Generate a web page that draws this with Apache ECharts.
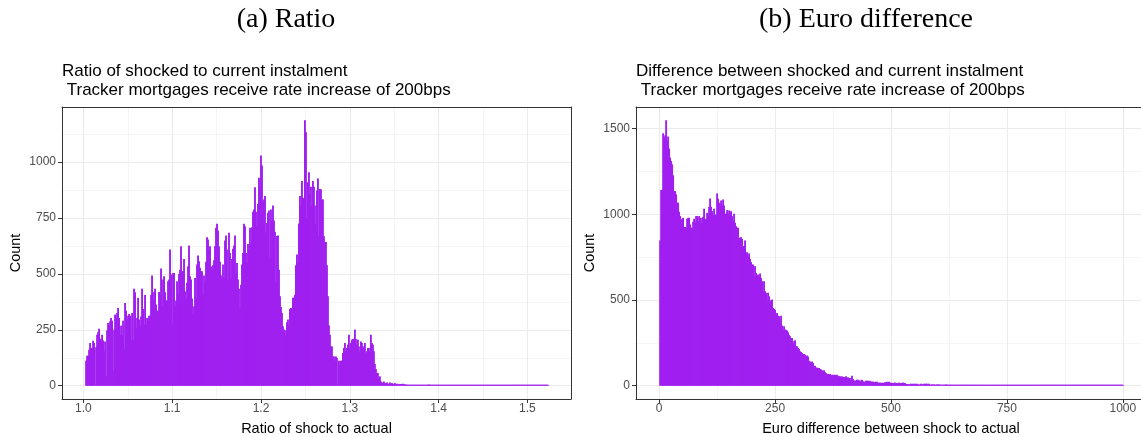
<!DOCTYPE html>
<html>
<head>
<meta charset="utf-8">
<script src="https://cdn.jsdelivr.net/npm/echarts@6/dist/echarts.min.js"></script>
<style>
html,body{margin:0;padding:0;background:#ffffff;}
#chart{width:1141px;height:437px;}
</style>
</head>
<body>
<div id="chart"></div>
<script>
// ---------- data ----------
const ratioRange = [1.002, 1.523];          // first bin left edge, last bin right edge
const ratioCounts = [
112,134,134,161,191,169,169,201,191,5,
172,228,240,255,210,203,228,203,154,198,
42,248,281,270,288,303,291,67,251,318,
303,325,348,303,228,269,228,291,166,370,
336,296,313,321,313,203,325,206,434,418,
258,303,393,296,266,310,434,343,273,406,
273,303,291,313,313,407,493,385,419,434,
363,336,333,419,407,524,358,475,490,418,
381,381,467,475,609,497,278,504,504,355,
381,467,407,500,519,624,512,512,567,422,
390,460,534,627,490,475,390,318,355,482,
390,542,582,557,527,512,512,407,493,467,
554,664,654,609,624,534,519,539,561,624,
706,724,694,624,554,494,479,542,482,649,
672,609,475,684,594,478,567,612,627,672,
504,549,475,434,345,452,542,594,724,713,
594,549,634,609,706,634,709,778,788,888,
778,713,813,930,890,1030,985,822,833,848,
684,728,773,784,575,788,736,806,739,688,
463,669,672,519,400,352,325,266,251,248,
228,284,296,273,343,348,348,393,393,407,
539,587,549,725,848,803,915,840,837,1187,
1134,751,910,955,858,890,807,915,890,806,
721,873,927,669,880,
878,833,833,669,643,643,539,400,270,228,
176,176,131,131,112,131,124,4,112,94,
112,112,146,169,191,154,169,184,228,169,
191,206,209,210,251,209,184,206,176,154,
198,191,176,169,191,146,154,169,169,154,
228,191,184,154,97,75,57,57,34,42,
19,15,12,19,12,10,15,9,9,15,
7,12,9,7,12,4,9,4,7,7,
8,6,9,5,7,4,5,4,3,4,3,2,3,2,2,
2,1,2,1,2,1,1,2,1,1,1,1,1,6,1,
1,1,0,1,0,0,1,0,1,0,
0,1,0,0,0,1,0,0,1,0,
0,0,1,0,0,0,0,1,0,0,
0,0,0,1,0,0,0,0,0,0,
1,0,0,0,0,0,0,0,0,1,
0,0,0,0,0,0,0,0,0,0,
0,0,1,0,0,0,0,0,0,0,
0,0,0,0,0,0,0,0,0,0,
0,0,0,0,1,0,0,0,0,0,
0,0,0,0,0,0,0,0,0,0,
0,0,0,0,0,0,0,0,0,0,
0,0,0,0,0,0,1,1
];

const euroRange = [0, 1000];
const euroCounts = [
848,1142,1142,1473,1448,1461,1549,1428,1454,1384,
1331,1311,1292,1228,1136,1136,1117,1068,1068,1015,
990,967,974,980,926,926,922,974,980,980,
941,922,922,957,974,955,990,990,961,990,
980,951,980,986,1033,970,974,1009,994,1044,
1093,1044,1019,994,1033,1000,994,1122,1091,1068,
1058,1081,1052,1087,1052,1004,1004,1025,1004,1023,
1004,1019,990,961,1004,951,931,922,922,863,
863,867,857,815,815,848,776,779,756,772,
740,721,707,707,639,698,659,639,649,639,
655,629,610,551,610,551,542,503,542,522,
493,499,503,454,448,444,415,425,409,405,
376,409,351,327,347,327,327,322,312,298,
288,273,279,244,259,265,230,230,220,214,
201,197,191,181,185,181,171,177,171,146,
142,133,142,133,113,117,103,107,103,103,
97,94,90,84,90,78,74,68,68,64,
68,64,60,64,58,64,58,64,58,55,
55,51,55,49,51,49,55,45,49,45,
45,
35,58,39,29,31,29,35,35,29,31,
29,35,25,25,16,29,29,29,25,29,
25,21,25,21,21,23,23,19,16,19,
16,18,18,16,21,21,23,19,23,19,
16,18,16,16,19,12,16,12,18,12,
16,12,19,12,16,10,10,8,8,8,
12,8,12,8,12,8,12,8,6,8,
12,8,8,12,8,12,12,8,12,6,
6,8,6,8,6,6,8,6,8,6,
6,6,6,6,6,8,6,6,6,6,
6,4,4,4,4,4,4,6,4,4,
6,4,4,6,4,4,6,4,4,4,
6,4,4,4,6,4,6,4,2,2,
2,2,2,2,2,2,2,2,2,2,
2,2,1,2,1,2,2,1,2,1,2,5,1,2,1,1,2,1,1,2,
1,1,2,1,1,1,2,1,1,1,1,1,1,1,1,4,1,1,1,1,
1,1,1,1,1,1,1,1,1,1,1,1,1,1,1,1,4,1,1,1,
1,1,0,1,1,0,1,1,1,0,1,1,0,1,1,1,0,1,1,0,
1,0,1,1,0,1,0,1,0,1,0,0,1,0,1,0,0,1,0,1,
0,0,1,0,0,1,0,0,0,1,0,0,1,0,0,0,1,0,0,0,
0,1,0,0,0,1,0,0,0,0,1,0,1
];

const ratioTicks = [1.0, 1.1, 1.2, 1.3, 1.4, 1.5];
const ratioMinorTicks = [1.05, 1.15, 1.25, 1.35, 1.45];
const ratioCountTicks = [0, 250, 500, 750, 1000];
const ratioCountMinorTicks = [125, 375, 625, 875, 1125];
const euroTicks = [0, 250, 500, 750, 1000];
const euroMinorTicks = [125, 375, 625, 875];
const euroCountTicks = [0, 500, 1000, 1500];
const euroCountMinorTicks = [250, 750, 1250];

const figureTitles = ['(a) Ratio', '(b) Euro difference'];
const panelTitles = [
  ['Ratio of shocked to current instalment', ' Tracker mortgages receive rate increase of 200bps'],
  ['Difference between shocked and current instalment', ' Tracker mortgages receive rate increase of 200bps']
];
const xTitles = ['Ratio of shock to actual', 'Euro difference between shock to actual'];
const yTitle = 'Count';

// ---------- helpers ----------
function toBins(counts, range) {
  const w = (range[1] - range[0]) / counts.length;
  return counts.map((c, i) => [range[0] + i * w, range[0] + (i + 1) * w, c]);
}
function expand(lo, hi) { const d = (hi - lo) * 0.05; return [lo - d, hi + d]; }

const ratioX = expand(ratioRange[0], ratioRange[1]);
const ratioY = expand(0, Math.max(...ratioCounts));
const euroX = expand(euroRange[0], euroRange[1]);
const euroY = expand(0, Math.max(...euroCounts));

const FONT = 'Liberation Sans, Arial, Helvetica, sans-serif';
const BAR = '#A020F0';
const BORDER = '#333333';
const GRID_MAJOR = '#ebebeb';
const GRID_MINOR = '#f2f2f2';

function renderBin(params, api) {
  const top = api.coord([api.value(0), api.value(2)]);
  const base = api.coord([api.value(1), 0]);
  const x0 = top[0], x1 = base[0];
  const y = Math.min(top[1], base[1] - 1);
  return {
    type: 'rect',
    shape: { x: x0, y: y, width: (x1 - x0) + 0.9, height: base[1] - y },
    style: { fill: BAR }
  };
}

function mainX(gridIndex, ext, ticks, fmt, name) {
  return {
    type: 'value', gridIndex, min: ext[0], max: ext[1], position: 'bottom',
    axisLine: { show: true, onZero: false, lineStyle: { color: BORDER, width: 1 } },
    axisTick: { show: true, length: 4, customValues: ticks, lineStyle: { color: BORDER, width: 1 } },
    axisLabel: { show: true, customValues: ticks, formatter: fmt, color: '#4d4d4d', fontSize: 12, fontFamily: FONT, margin: 4 },
    splitLine: { show: true, lineStyle: { color: GRID_MAJOR, width: 1.1 } },
    name, nameLocation: 'middle', nameGap: 22,
    nameTextStyle: { color: '#000000', fontSize: 14.5, fontFamily: FONT, verticalAlign: 'top' }
  };
}
function minorX(gridIndex, ext, ticks) {
  return {
    type: 'value', gridIndex, min: ext[0], max: ext[1], position: 'top',
    axisLine: { show: true, onZero: false, lineStyle: { color: BORDER, width: 1 } },
    axisTick: { show: false, customValues: ticks },
    axisLabel: { show: false, customValues: ticks },
    splitLine: { show: true, lineStyle: { color: GRID_MINOR, width: 0.8 } }
  };
}
function mainY(gridIndex, ext, ticks) {
  return {
    type: 'value', gridIndex, min: ext[0], max: ext[1], position: 'left',
    axisLine: { show: true, onZero: false, lineStyle: { color: BORDER, width: 1 } },
    axisTick: { show: true, length: 4, customValues: ticks, lineStyle: { color: BORDER, width: 1 } },
    axisLabel: { show: true, customValues: ticks, formatter: v => String(Math.round(v)), color: '#4d4d4d', fontSize: 12, fontFamily: FONT, margin: 6 },
    splitLine: { show: true, lineStyle: { color: GRID_MAJOR, width: 1.1 } },
    name: yTitle, nameLocation: 'middle', nameRotate: 90, nameGap: 39,
    nameTextStyle: { color: '#000000', fontSize: 14.5, fontFamily: FONT }
  };
}
function minorY(gridIndex, ext, ticks, showLine) {
  return {
    type: 'value', gridIndex, min: ext[0], max: ext[1], position: 'right',
    axisLine: { show: showLine, onZero: false, lineStyle: { color: BORDER, width: 1 } },
    axisTick: { show: false, customValues: ticks },
    axisLabel: { show: false, customValues: ticks },
    splitLine: { show: true, lineStyle: { color: GRID_MINOR, width: 0.8 } }
  };
}

function txt(text, x, y, size, family, align) {
  return {
    type: 'text', x, y, silent: true,
    style: {
      text, fill: '#000000', fontSize: size, fontFamily: family,
      textAlign: align, textVerticalAlign: 'middle', align: align, verticalAlign: 'middle'
    }
  };
}

const chart = echarts.init(document.getElementById('chart'), null, { renderer: 'canvas' });
chart.setOption({
  animation: false,
  backgroundColor: '#ffffff',
  grid: [
    { left: 62, top: 107, width: 509, height: 292, containLabel: false, outerBoundsMode: 'none' },
    { left: 636, top: 107, width: 510, height: 292, containLabel: false, outerBoundsMode: 'none' }
  ],
  xAxis: [
    mainX(0, ratioX, ratioTicks, v => Number(v).toFixed(1), xTitles[0]),
    minorX(0, ratioX, ratioMinorTicks),
    mainX(1, euroX, euroTicks, v => String(Math.round(v)), xTitles[1]),
    minorX(1, euroX, euroMinorTicks)
  ],
  yAxis: [
    mainY(0, ratioY, ratioCountTicks),
    minorY(0, ratioY, ratioCountMinorTicks, true),
    mainY(1, euroY, euroCountTicks),
    minorY(1, euroY, euroCountMinorTicks, false)
  ],
  series: [
    { type: 'custom', xAxisIndex: 0, yAxisIndex: 0, renderItem: renderBin,
      encode: { x: [0, 1], y: 2 }, data: toBins(ratioCounts, ratioRange), silent: true },
    { type: 'custom', xAxisIndex: 2, yAxisIndex: 2, renderItem: renderBin,
      encode: { x: [0, 1], y: 2 }, data: toBins(euroCounts, euroRange), silent: true }
  ],
  graphic: [
    txt(figureTitles[0], 286, 20, 28, 'Liberation Serif, Times New Roman, serif', 'center'),
    txt(figureTitles[1], 866, 20, 28, 'Liberation Serif, Times New Roman, serif', 'center'),
    txt(panelTitles[0][0], 62, 71.5, 17, FONT, 'left'),
    txt(panelTitles[0][1], 62, 90.5, 17, FONT, 'left'),
    txt(panelTitles[1][0], 636, 71.5, 17, FONT, 'left'),
    txt(panelTitles[1][1], 636, 90.5, 17, FONT, 'left')
  ]
});
</script>
</body>
</html>
